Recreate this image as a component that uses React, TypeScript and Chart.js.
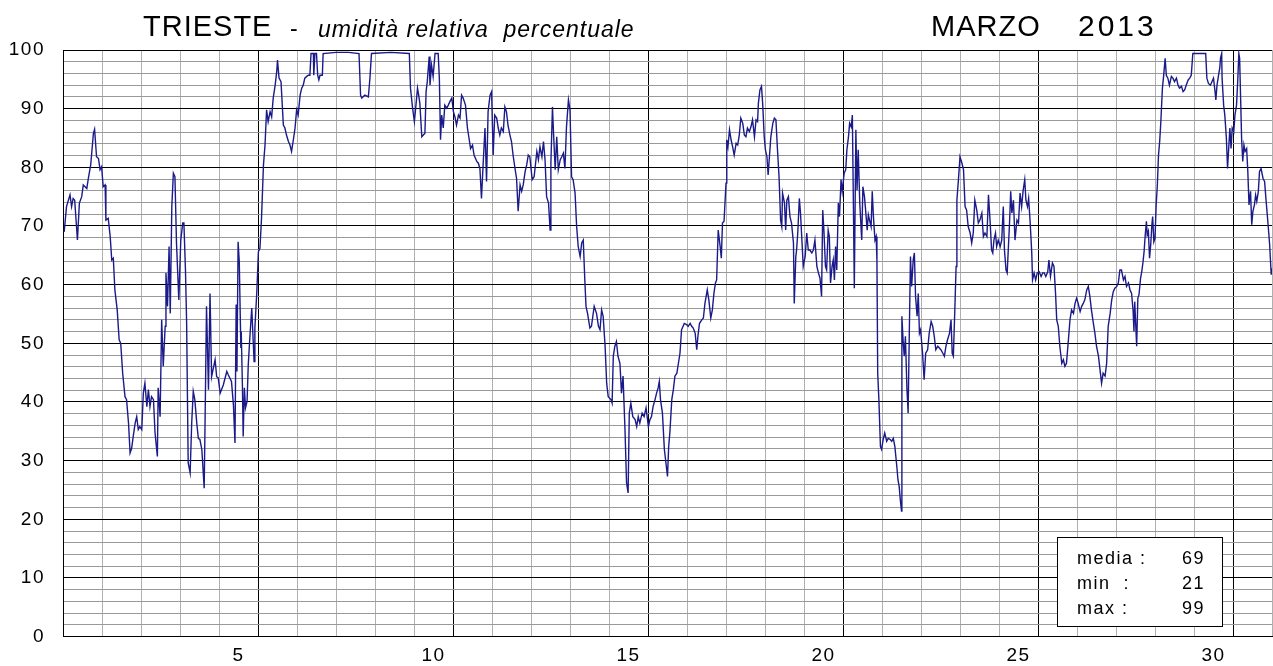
import React, { useEffect, useRef } from "react";
import { Chart, registerables } from "chart.js";

Chart.register(...registerables);

// ---------- texts ----------
const titleStation = "TRIESTE";
const titleDash = "-";
const titleQuantity = "umidità relativa  percentuale";
const titleMonth = "MARZO";
const titleYear = "2013";

// ---------- axes ----------
const monthDays = 31;
const xLabelDays = [5, 10, 15, 20, 25, 30];
const yMin = 0;
const yMax = 100;
const yMinorStep = 2;
const yMajorStep = 10;
const xMajorStep = 5;

// ---------- statistics box ----------
const statNames = ["media :", "min  :", "max :"];
const statValues = [69, 21, 99];

// ---------- series: [days elapsed since 1 March 00:00, relative humidity %] ----------
const rhDays01to04 = [
  [0.03, 69.0], [0.09, 73.3], [0.18, 75.3], [0.22, 73.3], [0.26, 74.7], [0.3, 74.4], [0.37, 67.6],
  [0.42, 73.9], [0.48, 75.0], [0.52, 77.0], [0.61, 76.4], [0.65, 78.1], [0.71, 80.4], [0.78, 85.8],
  [0.81, 86.5], [0.86, 81.8], [0.91, 81.5], [0.95, 79.6], [0.99, 80.1], [1.03, 76.7], [1.08, 77.0],
  [1.1, 71.0], [1.16, 71.3], [1.21, 68.2], [1.25, 64.2], [1.29, 64.5], [1.33, 59.1], [1.39, 55.7],
  [1.44, 50.6], [1.48, 50.0], [1.53, 44.9], [1.59, 40.9], [1.63, 40.4], [1.68, 36.4], [1.72, 31.3],
  [1.76, 32.1], [1.8, 34.1], [1.85, 36.4], [1.89, 37.5], [1.93, 35.3], [1.97, 35.8], [2.02, 35.3],
  [2.06, 41.5], [2.1, 43.2], [2.15, 39.2], [2.19, 42.1], [2.23, 39.2], [2.27, 40.9], [2.32, 40.4],
  [2.36, 34.7], [2.42, 30.7], [2.44, 42.4], [2.49, 37.5], [2.53, 54.0], [2.57, 46.1], [2.62, 52.9],
  [2.64, 62.0], [2.68, 56.3], [2.72, 66.5], [2.75, 55.1], [2.79, 73.3], [2.83, 79.0], [2.87, 78.4],
  [2.91, 67.1], [2.97, 57.4], [3.02, 67.6], [3.07, 70.5], [3.1, 70.5], [3.14, 62.5], [3.17, 53.4],
  [3.21, 29.6], [3.26, 27.9], [3.3, 36.4], [3.34, 41.8], [3.38, 40.4], [3.43, 36.4], [3.47, 33.8],
  [3.51, 33.6], [3.56, 31.9], [3.62, 25.3], [3.65, 40.4], [3.68, 56.3], [3.73, 42.1], [3.77, 58.5],
  [3.81, 44.3], [3.9, 47.2],
];

const rhDays04to08 = [
  [3.94, 44.3], [3.98, 44.1], [4.03, 41.5], [4.11, 42.9], [4.2, 45.2], [4.24, 44.6], [4.32, 43.5],
  [4.37, 39.5], [4.41, 33.0], [4.44, 56.6], [4.46, 45.2], [4.49, 67.3], [4.52, 63.9], [4.56, 49.2],
  [4.57, 52.0], [4.6, 42.9], [4.62, 34.1], [4.65, 42.4], [4.68, 39.0], [4.72, 40.1], [4.75, 46.3],
  [4.79, 50.9], [4.84, 56.0], [4.87, 51.4], [4.9, 46.9], [4.92, 52.6], [4.97, 58.8], [5.01, 65.6],
  [5.05, 66.2], [5.09, 71.3], [5.14, 80.4], [5.18, 83.8], [5.22, 89.8], [5.26, 87.8], [5.31, 89.5],
  [5.35, 88.6], [5.39, 91.8], [5.44, 94.0], [5.48, 96.3], [5.5, 98.3], [5.54, 95.2], [5.59, 94.6],
  [5.65, 87.2], [5.69, 86.7], [5.73, 85.5], [5.78, 84.4], [5.82, 83.8], [5.86, 82.7], [5.9, 84.4],
  [5.95, 86.7], [5.99, 89.8], [6.03, 88.9], [6.08, 92.3], [6.12, 93.5], [6.16, 94.0], [6.2, 95.2],
  [6.25, 95.5], [6.29, 95.7], [6.33, 95.7], [6.36, 99.4], [6.42, 99.4], [6.43, 95.7], [6.46, 99.4],
  [6.5, 99.4], [6.53, 95.7], [6.56, 94.9], [6.59, 95.7], [6.65, 95.7], [6.67, 99.4], [7.0, 99.6],
  [7.32, 99.6], [7.59, 99.4], [7.63, 92.3], [7.66, 91.8], [7.74, 92.3], [7.83, 92.0], [7.87, 95.2],
  [7.91, 99.4],
];

const rhDays09to12 = [
  [8.4, 99.6], [8.88, 99.4], [8.91, 93.5], [8.96, 90.3], [9.01, 87.8], [9.05, 90.6], [9.09, 93.5],
  [9.12, 92.3], [9.15, 90.9], [9.2, 85.2], [9.28, 85.8], [9.31, 92.9], [9.34, 94.6], [9.39, 98.9],
  [9.41, 94.0], [9.45, 97.4], [9.49, 95.5], [9.54, 99.4], [9.62, 99.4], [9.65, 95.2], [9.68, 84.7],
  [9.71, 88.9], [9.75, 86.7], [9.79, 90.6], [9.84, 90.1], [9.88, 90.6], [9.92, 91.2], [9.97, 91.8],
  [10.01, 89.5], [10.05, 88.6], [10.09, 87.2], [10.14, 88.9], [10.18, 88.4], [10.22, 92.3],
  [10.26, 91.8], [10.32, 90.6], [10.37, 86.7], [10.41, 85.0], [10.45, 83.2], [10.5, 83.8],
  [10.54, 82.1], [10.61, 81.0], [10.65, 80.7], [10.69, 79.8], [10.73, 74.7], [10.78, 81.5],
  [10.82, 86.7], [10.86, 77.6], [10.9, 89.5], [10.95, 92.3], [10.99, 92.9], [11.03, 82.1],
  [11.07, 88.9], [11.12, 88.4], [11.16, 86.7], [11.2, 85.5], [11.24, 86.7], [11.29, 86.1],
  [11.33, 90.3], [11.37, 89.5], [11.41, 87.2], [11.46, 85.5], [11.5, 84.4], [11.54, 82.1],
  [11.59, 79.8], [11.63, 78.1], [11.67, 72.5], [11.72, 77.0], [11.76, 75.9], [11.8, 77.0],
  [11.85, 79.3], [11.89, 80.4], [11.93, 82.1],
];

const rhDays12to16 = [
  [11.97, 81.8], [12.03, 77.9], [12.08, 78.4], [12.15, 82.7], [12.19, 81.3], [12.23, 83.5],
  [12.28, 81.8], [12.32, 84.4], [12.36, 81.3], [12.4, 75.0], [12.45, 73.9], [12.49, 69.3],
  [12.51, 80.7], [12.55, 90.3], [12.58, 85.5], [12.62, 79.6], [12.66, 85.2], [12.7, 79.6],
  [12.75, 81.3], [12.79, 81.8], [12.83, 82.4], [12.87, 79.8], [12.91, 86.9], [12.96, 91.5],
  [13.0, 89.8], [13.04, 78.4], [13.08, 77.9], [13.13, 75.6], [13.17, 69.9], [13.21, 66.5],
  [13.26, 64.8], [13.3, 67.1], [13.34, 67.6], [13.38, 60.8], [13.41, 56.3], [13.45, 55.1],
  [13.51, 52.6], [13.55, 52.9], [13.62, 56.3], [13.68, 55.1], [13.73, 52.9], [13.77, 52.3],
  [13.81, 55.7], [13.85, 54.6], [13.9, 49.5], [13.94, 43.2], [13.98, 40.9], [14.05, 40.4],
  [14.08, 39.8], [14.11, 47.8], [14.15, 49.5], [14.19, 50.3], [14.23, 47.8], [14.28, 46.6],
  [14.32, 41.5], [14.36, 44.4], [14.41, 35.3], [14.45, 26.2], [14.49, 24.5], [14.52, 38.1],
  [14.56, 39.8], [14.61, 37.5], [14.67, 37.0], [14.71, 35.8], [14.75, 37.5], [14.79, 36.4],
  [14.85, 38.1], [14.9, 37.5], [14.95, 39.0], [15.01, 35.8], [15.05, 37.0], [15.09, 37.5],
  [15.13, 39.2], [15.18, 40.4], [15.22, 41.5], [15.26, 42.4], [15.29, 43.5], [15.32, 40.4],
  [15.37, 38.1], [15.42, 31.9], [15.46, 29.6], [15.5, 27.3], [15.53, 32.4], [15.56, 34.7],
  [15.61, 40.4], [15.65, 42.1], [15.69, 44.4], [15.74, 44.9], [15.78, 46.6], [15.82, 48.3],
  [15.86, 52.3], [15.93, 53.4],
];

const rhDays16to20 = [
  [15.99, 53.2], [16.03, 52.9], [16.08, 53.4], [16.12, 52.9], [16.16, 52.6], [16.21, 51.7],
  [16.25, 48.9], [16.28, 51.2], [16.32, 53.4], [16.38, 54.0], [16.42, 54.3], [16.46, 56.8],
  [16.52, 59.1], [16.56, 57.4], [16.61, 54.3], [16.65, 55.7], [16.69, 58.5], [16.73, 60.3],
  [16.76, 60.8], [16.8, 69.3], [16.85, 66.5], [16.88, 64.5], [16.91, 70.5], [16.95, 70.8],
  [17.0, 77.3], [17.02, 84.7], [17.05, 83.5], [17.09, 86.4], [17.13, 84.7], [17.17, 83.5],
  [17.21, 82.1], [17.26, 84.1], [17.3, 83.8], [17.34, 85.5], [17.38, 88.4], [17.43, 87.5],
  [17.47, 85.5], [17.51, 85.2], [17.55, 86.7], [17.6, 86.1], [17.64, 86.9], [17.68, 88.1],
  [17.73, 85.2], [17.77, 88.1], [17.81, 87.8], [17.83, 90.9], [17.87, 93.2], [17.91, 93.8],
  [17.94, 90.9], [17.98, 85.2], [18.01, 83.0], [18.05, 81.8], [18.08, 78.7], [18.12, 82.4],
  [18.15, 85.2], [18.2, 87.5], [18.24, 88.4], [18.28, 88.1], [18.32, 83.0], [18.36, 78.4],
  [18.4, 71.0], [18.43, 69.9], [18.45, 75.6], [18.5, 73.9], [18.53, 69.3], [18.56, 74.4],
  [18.6, 75.0], [18.64, 71.6], [18.68, 70.5], [18.73, 67.1], [18.75, 56.8], [18.79, 64.8],
  [18.81, 65.9], [18.84, 68.8], [18.88, 74.7], [18.91, 72.2], [18.95, 67.1], [18.98, 63.1],
  [19.03, 64.8], [19.07, 68.8], [19.11, 65.9], [19.15, 65.9], [19.2, 65.4], [19.24, 65.9],
  [19.28, 67.6], [19.33, 63.1], [19.37, 62.0], [19.41, 61.1], [19.45, 58.0], [19.48, 72.7],
  [19.51, 69.3], [19.55, 63.1], [19.58, 62.5], [19.62, 69.3], [19.65, 68.2], [19.68, 60.3],
  [19.72, 63.1], [19.75, 64.2], [19.78, 60.8],
];

const rhDays20to24 = [
  [19.81, 66.5], [19.84, 62.5], [19.88, 73.9], [19.91, 71.6], [19.95, 77.9], [19.98, 75.9],
  [20.03, 79.0], [20.07, 79.6], [20.1, 83.0], [20.14, 85.2], [20.17, 87.5], [20.21, 86.9],
  [20.24, 88.9], [20.27, 71.6], [20.29, 59.4], [20.33, 86.4], [20.36, 76.1], [20.39, 83.0],
  [20.43, 73.9], [20.48, 67.6], [20.51, 76.7], [20.55, 75.0], [20.58, 72.7], [20.62, 69.3],
  [20.65, 71.9], [20.68, 71.0], [20.72, 69.9], [20.75, 75.9], [20.78, 71.6], [20.82, 67.6],
  [20.85, 68.2], [20.87, 64.2], [20.89, 44.9], [20.92, 40.4], [20.96, 32.4], [20.99, 31.9],
  [21.03, 33.6], [21.07, 34.7], [21.12, 33.3], [21.16, 33.8], [21.21, 33.6], [21.25, 33.3],
  [21.29, 33.8], [21.33, 32.4], [21.38, 29.0], [21.41, 26.7], [21.44, 25.6], [21.47, 23.3],
  [21.5, 21.4], [21.51, 54.6], [21.54, 50.6], [21.57, 47.8], [21.6, 51.2], [21.64, 42.1],
  [21.67, 38.1], [21.7, 51.7], [21.73, 64.8], [21.76, 59.7], [21.8, 64.2], [21.83, 65.4],
  [21.86, 58.0], [21.9, 54.6], [21.93, 58.5], [21.96, 51.7], [21.99, 52.3], [22.04, 48.3],
  [22.08, 43.8], [22.12, 48.3], [22.17, 48.9], [22.21, 51.7], [22.26, 53.7], [22.3, 52.9],
  [22.34, 51.2], [22.38, 48.9], [22.43, 49.5], [22.47, 49.2], [22.51, 48.9], [22.56, 48.3],
  [22.6, 47.8], [22.64, 49.5], [22.68, 50.6], [22.73, 51.7], [22.77, 54.0], [22.8, 48.3],
  [22.83, 47.8], [22.87, 56.3], [22.9, 63.1], [22.92, 74.4], [22.96, 77.9], [23.0, 81.8],
  [23.05, 80.7], [23.09, 79.6], [23.13, 73.3], [23.17, 72.7], [23.21, 69.9], [23.26, 68.8],
  [23.3, 67.1], [23.34, 68.8], [23.38, 74.4], [23.43, 72.7], [23.47, 70.5], [23.51, 71.0],
  [23.56, 72.2], [23.6, 68.2], [23.64, 68.8], [23.69, 68.2], [23.73, 75.3], [23.77, 71.0],
];

const rhDays24to28 = [
  [23.81, 65.9], [23.84, 65.4], [23.87, 67.6], [23.91, 68.8], [23.94, 66.5], [23.98, 67.6],
  [24.03, 66.5], [24.07, 67.6], [24.11, 73.3], [24.14, 65.9], [24.18, 62.5], [24.21, 62.0],
  [24.27, 70.5], [24.3, 75.9], [24.33, 72.2], [24.37, 74.4], [24.41, 67.6], [24.46, 71.0],
  [24.5, 70.5], [24.54, 75.6], [24.58, 73.3], [24.62, 76.1], [24.66, 77.9], [24.69, 74.4],
  [24.73, 73.3], [24.76, 74.7], [24.8, 70.5], [24.84, 65.4], [24.86, 60.8], [24.9, 62.0],
  [24.94, 60.8], [24.98, 62.0], [25.03, 62.2], [25.08, 61.4], [25.12, 62.0], [25.16, 62.0],
  [25.2, 61.4], [25.25, 62.2], [25.28, 64.2], [25.32, 61.4], [25.37, 63.7], [25.41, 63.1],
  [25.45, 58.5], [25.48, 54.0], [25.52, 52.9], [25.56, 49.5], [25.61, 46.6], [25.65, 47.2],
  [25.69, 46.1], [25.73, 46.6], [25.78, 50.6], [25.82, 54.0], [25.86, 55.7], [25.91, 55.1],
  [25.95, 56.8], [25.99, 57.7], [26.03, 56.8], [26.08, 55.4], [26.12, 56.3], [26.16, 56.8],
  [26.2, 57.4], [26.25, 59.1], [26.29, 59.7], [26.33, 58.0], [26.37, 55.7], [26.42, 53.4],
  [26.46, 51.7], [26.5, 49.5], [26.55, 47.8], [26.59, 45.5], [26.63, 43.2], [26.67, 44.9],
  [26.72, 44.4], [26.76, 46.6], [26.8, 52.9], [26.85, 55.1], [26.89, 57.4], [26.93, 58.8],
  [26.97, 59.4], [27.02, 59.7], [27.06, 60.3], [27.1, 62.5], [27.14, 62.5], [27.19, 60.8],
  [27.23, 61.4], [27.27, 59.7], [27.32, 60.3], [27.36, 59.1], [27.4, 58.5],
];

const rhDays28to31 = [
  [27.44, 55.4], [27.46, 52.0], [27.48, 57.1], [27.53, 49.5], [27.56, 57.7], [27.59, 58.3],
  [27.63, 61.1], [27.66, 62.2], [27.69, 63.7], [27.72, 65.6], [27.75, 68.5], [27.78, 70.8],
  [27.8, 68.5], [27.83, 69.1], [27.86, 64.5], [27.89, 66.8], [27.92, 70.2], [27.94, 71.6],
  [27.97, 67.3], [28.0, 67.9], [28.03, 73.6], [28.06, 77.0], [28.09, 82.1], [28.12, 84.4],
  [28.15, 87.8], [28.19, 93.5], [28.22, 95.5], [28.26, 98.6], [28.29, 95.7], [28.33, 95.2],
  [28.37, 94.0], [28.42, 95.5], [28.46, 95.2], [28.5, 94.6], [28.55, 95.2], [28.59, 94.0],
  [28.63, 93.5], [28.68, 93.8], [28.72, 92.9], [28.76, 93.2], [28.8, 94.0], [28.85, 94.9],
  [28.89, 95.2], [28.93, 95.7], [28.97, 99.4], [29.3, 99.4], [29.33, 95.2], [29.37, 94.3],
  [29.42, 94.0], [29.46, 94.6], [29.5, 95.2], [29.54, 92.9], [29.56, 91.5], [29.59, 94.0],
  [29.63, 95.7], [29.66, 96.9], [29.68, 98.6], [29.71, 99.4], [29.72, 95.2], [29.76, 90.6],
  [29.79, 88.9], [29.83, 85.0], [29.86, 79.8], [29.88, 82.1], [29.92, 86.7], [29.95, 83.2],
  [29.98, 86.7], [30.02, 86.1], [30.05, 88.9], [30.09, 90.6], [30.12, 94.6], [30.15, 99.4],
  [30.17, 98.6], [30.2, 90.6], [30.22, 85.0], [30.25, 81.0], [30.28, 83.8], [30.31, 82.7],
  [30.35, 83.2], [30.38, 79.3], [30.41, 73.6], [30.45, 75.9], [30.48, 70.2], [30.51, 72.5],
  [30.55, 73.6], [30.58, 75.3], [30.61, 74.2], [30.65, 75.9], [30.68, 79.3], [30.72, 79.8],
  [30.77, 78.1], [30.81, 77.6], [30.85, 74.2], [30.9, 70.2], [30.94, 66.8], [30.98, 61.7],
  [31.0, 62.8],
];

const FONT = "'Liberation Sans', Arial, Helvetica, sans-serif";

const decorPlugin = {
  id: "decor",
  beforeDraw(chart: any) {
    (chart.ctx as any).letterSpacing = "1.5px";
  },
  afterDraw(chart: any) {
    const ctx = chart.ctx as CanvasRenderingContext2D & { letterSpacing: string };
    ctx.save();
    ctx.fillStyle = "#000";
    ctx.textAlign = "left";
    ctx.textBaseline = "alphabetic";

    ctx.font = `29px ${FONT}`;
    ctx.letterSpacing = "1px";
    ctx.fillText(titleStation, 143, 36);
    ctx.fillText(titleMonth, 931, 36);
    ctx.letterSpacing = "3px";
    ctx.font = `30px ${FONT}`;
    ctx.fillText(titleYear, 1078, 36);

    ctx.letterSpacing = "1px";
    ctx.font = `23px ${FONT}`;
    ctx.fillText(titleDash, 290, 36);
    ctx.font = `italic 23px ${FONT}`;
    ctx.fillText(titleQuantity, 318, 37);

    // statistics box
    const bx = 1057.5;
    const by = 537.5;
    const bw = 165;
    const bh = 89;
    ctx.fillStyle = "#fff";
    ctx.fillRect(bx, by, bw, bh);
    ctx.strokeStyle = "#000";
    ctx.lineWidth = 1;
    ctx.strokeRect(bx, by, bw, bh);

    ctx.fillStyle = "#000";
    ctx.font = `18px ${FONT}`;
    ctx.letterSpacing = "1.5px";
    const rowBase = [564, 589, 614];
    statNames.forEach((name, i) => {
      ctx.textAlign = "left";
      ctx.fillText(name, 1077, rowBase[i]);
      ctx.textAlign = "right";
      ctx.fillText(String(statValues[i]), 1205, rowBase[i]);
    });
    ctx.restore();
  },
};

export default function App() {
  const ref = useRef<HTMLCanvasElement>(null);

  useEffect(() => {
    document.body.style.margin = "0";
    const canvas = ref.current;
    if (!canvas) return;

    const points = [
      ...rhDays01to04,
      ...rhDays04to08,
      ...rhDays09to12,
      ...rhDays12to16,
      ...rhDays16to20,
      ...rhDays20to24,
      ...rhDays24to28,
      ...rhDays28to31,
    ].map(([x, y]) => ({ x, y }));

    Chart.defaults.font.family = FONT;

    const chart = new Chart(canvas, {
      type: "line",
      data: {
        datasets: [
          {
            data: points,
            borderColor: "#1a1a8a",
            borderWidth: 1.4,
            pointRadius: 0,
            tension: 0,
            fill: false,
            xAxisID: "x",
            yAxisID: "y",
          },
        ],
      },
      options: {
        animation: false,
        responsive: false,
        devicePixelRatio: 1,
        events: [],
        layout: { padding: { top: 50, right: 1, left: 0, bottom: 0 } },
        plugins: {
          legend: { display: false },
          tooltip: { enabled: false },
          title: { display: false },
        },
        scales: {
          x: {
            type: "linear",
            position: "bottom",
            min: 0,
            max: monthDays,
            ticks: { display: false, stepSize: 1, maxTicksLimit: 1000 },
            grid: {
              drawTicks: false,
              lineWidth: 1,
              color: (c: any) =>
                c.tick && c.tick.value % xMajorStep === 0 ? "#000" : "#b0b0b0",
            },
            border: { display: true, color: "#000", width: 1 },
            afterFit: (s: any) => {
              s.height = 0;
            },
          },
          x2: {
            type: "linear",
            position: "bottom",
            min: 0,
            max: monthDays,
            grid: { display: false, drawTicks: false },
            border: { display: false },
            afterBuildTicks: (s: any) => {
              s.ticks = xLabelDays.map((d) => ({ value: d - 0.5 }));
            },
            ticks: {
              autoSkip: false,
              maxRotation: 0,
              padding: 8,
              color: "#000",
              font: { size: 19 },
              callback: (_v: any, i: number) => String(xLabelDays[i]),
            },
            afterFit: (s: any) => {
              s.height = 29;
            },
          },
          y: {
            type: "linear",
            min: yMin,
            max: yMax,
            ticks: {
              stepSize: yMinorStep,
              autoSkip: false,
              maxTicksLimit: 1000,
              padding: 18,
              color: "#000",
              font: { size: 19 },
              callback: (v: any) => (Number(v) % yMajorStep === 0 ? String(v) : ""),
            },
            grid: {
              drawTicks: false,
              lineWidth: 1,
              color: (c: any) =>
                c.tick && c.tick.value % yMajorStep === 0 ? "#000" : "#999999",
            },
            border: { display: true, color: "#000", width: 1 },
            afterFit: (s: any) => {
              s.width = 63;
            },
          },
        },
      } as any,
      plugins: [decorPlugin],
    });

    return () => chart.destroy();
  }, []);

  return <canvas ref={ref} width={1273} height={666} style={{ display: "block" }} />;
}
